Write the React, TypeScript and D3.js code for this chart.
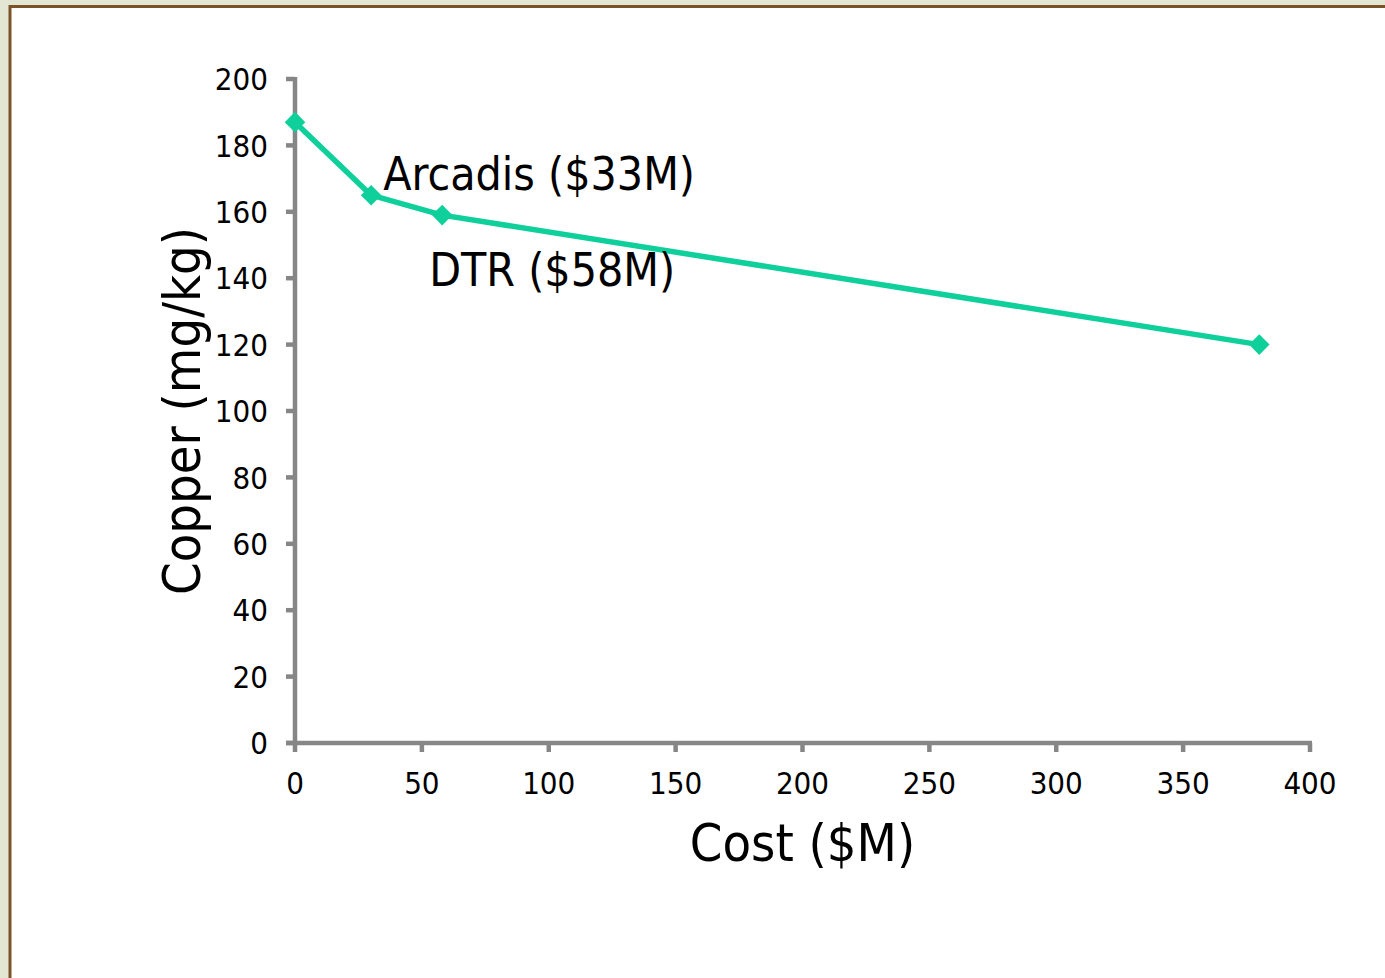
import React from "react";
import * as d3 from "d3";

const costs = [0, 30, 58, 380];
const copper = [187, 165, 159, 120];
const xTicks = [0, 50, 100, 150, 200, 250, 300, 350, 400];
const yTicks = [0, 20, 40, 60, 80, 100, 120, 140, 160, 180, 200];
const annotations = [
  { text: "Arcadis ($33M)", cost: 30, value: 165 },
  { text: "DTR ($58M)", cost: 58, value: 159 },
];
const xTitle = "Cost ($M)";
const yTitle = "Copper (mg/kg)";

const W = 1385;
const H = 978;
const FONT = "'DejaVu Sans', sans-serif";
const LINE = "#0fcf9b";
const AXIS = "#868686";

export default function App() {
  const x = d3.scaleLinear().domain([0, 400]).range([295, 1310]);
  const y = d3.scaleLinear().domain([0, 200]).range([743, 79]);
  const pts = costs.map((c, i) => [x(c), y(copper[i])] as [number, number]);
  const line = d3.line()(pts) || "";
  const diamond = d3.symbol().type(d3.symbolDiamond2).size(270)() || "";

  return (
    <svg width={W} height={H} style={{ position: "absolute", left: 0, top: 0 }}>
      <rect x={0} y={0} width={W} height={H} fill="#e4e6d4" />
      <rect x={10} y={6.5} width={W + 20} height={H + 20} fill="#ffffff" stroke="#7a5428" strokeWidth={3} />
      {/* y axis */}
      <line x1={x(0)} x2={x(0)} y1={y(200) - 2} y2={y(0) + 2} stroke={AXIS} strokeWidth={4.5} />
      {yTicks.map((t) => (
        <g key={"y" + t}>
          <line x1={x(0) - 9} x2={x(0)} y1={y(t)} y2={y(t)} stroke={AXIS} strokeWidth={4.5} />
          <text
            x={268}
            y={y(t)}
            dy="0.36em"
            textAnchor="end"
            fontFamily={FONT}
            fontStretch="condensed"
            fontSize={31}
            fill="#000"
          >
            {t}
          </text>
        </g>
      ))}
      {/* x axis */}
      <line x1={x(0) - 9} x2={x(400) + 2} y1={y(0)} y2={y(0)} stroke={AXIS} strokeWidth={4.5} />
      {xTicks.map((t) => (
        <g key={"x" + t}>
          <line x1={x(t)} x2={x(t)} y1={y(0)} y2={y(0) + 9} stroke={AXIS} strokeWidth={4.5} />
          <text
            x={x(t)}
            y={794}
            textAnchor="middle"
            fontFamily={FONT}
            fontStretch="condensed"
            fontSize={31}
            fill="#000"
          >
            {t}
          </text>
        </g>
      ))}
      {/* line */}
      <path d={line} fill="none" stroke={LINE} strokeWidth={5.5} strokeLinejoin="round" />
      {pts.map((p, i) => (
        <path key={"m" + i} d={diamond} transform={`translate(${p[0]},${p[1]})`} fill={LINE} />
      ))}
      {/* annotations */}
      <text x={x(annotations[0].cost) + 12} y={y(annotations[0].value) - 5} fontFamily={FONT} fontStretch="condensed" fontSize={46} fill="#000">
        {annotations[0].text}
      </text>
      <text x={x(annotations[1].cost) - 13} y={y(annotations[1].value) + 71} fontFamily={FONT} fontStretch="condensed" fontSize={46} fill="#000">
        {annotations[1].text}
      </text>
      {/* titles */}
      <text x={(x(0) + x(400)) / 2} y={861} textAnchor="middle" fontFamily={FONT} fontStretch="condensed" fontSize={52} fill="#000">
        {xTitle}
      </text>
      <text
        transform={`translate(200, ${(y(0) + y(200)) / 2}) rotate(-90)`}
        textAnchor="middle"
        fontFamily={FONT}
        fontStretch="condensed"
        fontSize={52}
        fill="#000"
      >
        {yTitle}
      </text>
    </svg>
  );
}
